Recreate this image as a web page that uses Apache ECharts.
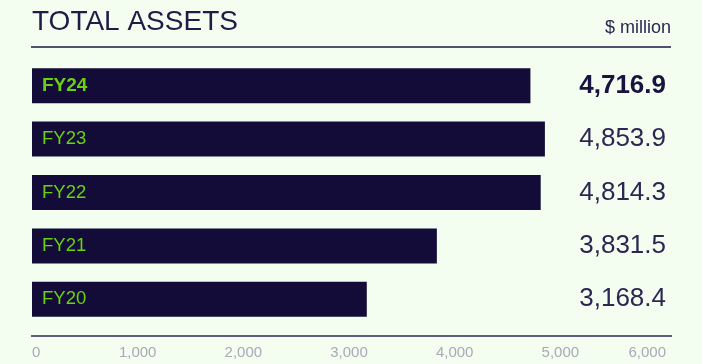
<!DOCTYPE html>
<html>
<head>
<meta charset="utf-8">
<script src="https://cdn.jsdelivr.net/npm/echarts@6/dist/echarts.min.js"></script>
<style>
html,body{margin:0;padding:0;background:#f3fef0;}
#chart{width:702px;height:364px;}
</style>
</head>
<body>
<div id="chart"></div>
<script>
var categories = ['FY24', 'FY23', 'FY22', 'FY21', 'FY20'];
var values = [4716.9, 4853.9, 4814.3, 3831.5, 3168.4];
var axisTicks = [0, 1000, 2000, 3000, 4000, 5000, 6000];
var titleText = 'TOTAL ASSETS';
var unitText = '$ million';

function fmt1(v) {
  return v.toLocaleString('en-US', {minimumFractionDigits: 1, maximumFractionDigits: 1});
}
var valueLabels = values.map(fmt1);

var chart = echarts.init(document.getElementById('chart'));
var FONT = '"Liberation Sans", Arial, sans-serif';
chart.setOption({
  backgroundColor: '#f3fef0',
  animation: false,
  title: {
    text: titleText,
    left: 32,
    top: 8,
    padding: 0,
    textStyle: {fontFamily: FONT, fontSize: 28, fontWeight: 'normal', color: '#1f1c48'}
  },
  graphic: [
    {type: 'line', shape: {x1: 31, y1: 47, x2: 671, y2: 47}, style: {stroke: '#1c1943', lineWidth: 1.5}},
    {type: 'line', shape: {x1: 31, y1: 336, x2: 672, y2: 336}, style: {stroke: '#2b2957', lineWidth: 1.5}},
    {type: 'text', right: 31, top: 19, style: {text: unitText, font: '18px ' + FONT, fill: '#2a2852'}}
  ],
  grid: {left: 32, right: 36, top: 59, bottom: 38},
  xAxis: {
    type: 'value',
    min: axisTicks[0],
    max: axisTicks[axisTicks.length - 1],
    interval: 1000,
    offset: 10,
    axisLine: {show: false},
    axisTick: {show: false},
    splitLine: {show: false},
    axisLabel: {
      margin: 9,
      fontFamily: FONT,
      fontSize: 15,
      color: '#a9a9b8',
      alignMinLabel: 'left',
      alignMaxLabel: 'right',
      formatter: function (v) { return v.toLocaleString('en-US'); }
    }
  },
  yAxis: [
    {
      type: 'category',
      inverse: true,
      data: categories,
      axisLine: {show: false},
      axisTick: {show: false},
      axisLabel: {
        inside: true,
        margin: 10,
        formatter: function (v, i) { return i === 0 ? '{b|' + v + '}' : '{n|' + v + '}'; },
        rich: {
          b: {fontFamily: FONT, fontSize: 19, fontWeight: 'bold', color: '#6ad20c'},
          n: {fontFamily: FONT, fontSize: 18.5, color: '#6ad20c'}
        }
      },
      z: 10
    },
    {
      type: 'category',
      inverse: true,
      position: 'right',
      data: valueLabels,
      axisLine: {show: false},
      axisTick: {show: false},
      axisLabel: {
        inside: true,
        margin: 0,
        formatter: function (v, i) { return i === 0 ? '{b|' + v + '}' : '{n|' + v + '}'; },
        rich: {
          b: {fontFamily: FONT, fontSize: 26, fontWeight: 'bold', color: '#17143f'},
          n: {fontFamily: FONT, fontSize: 26, color: '#2a2852'}
        }
      }
    }
  ],
  series: [{
    type: 'bar',
    data: values,
    barWidth: 35,
    itemStyle: {color: '#130c38'},
    yAxisIndex: 0
  }]
});
</script>
</body>
</html>
